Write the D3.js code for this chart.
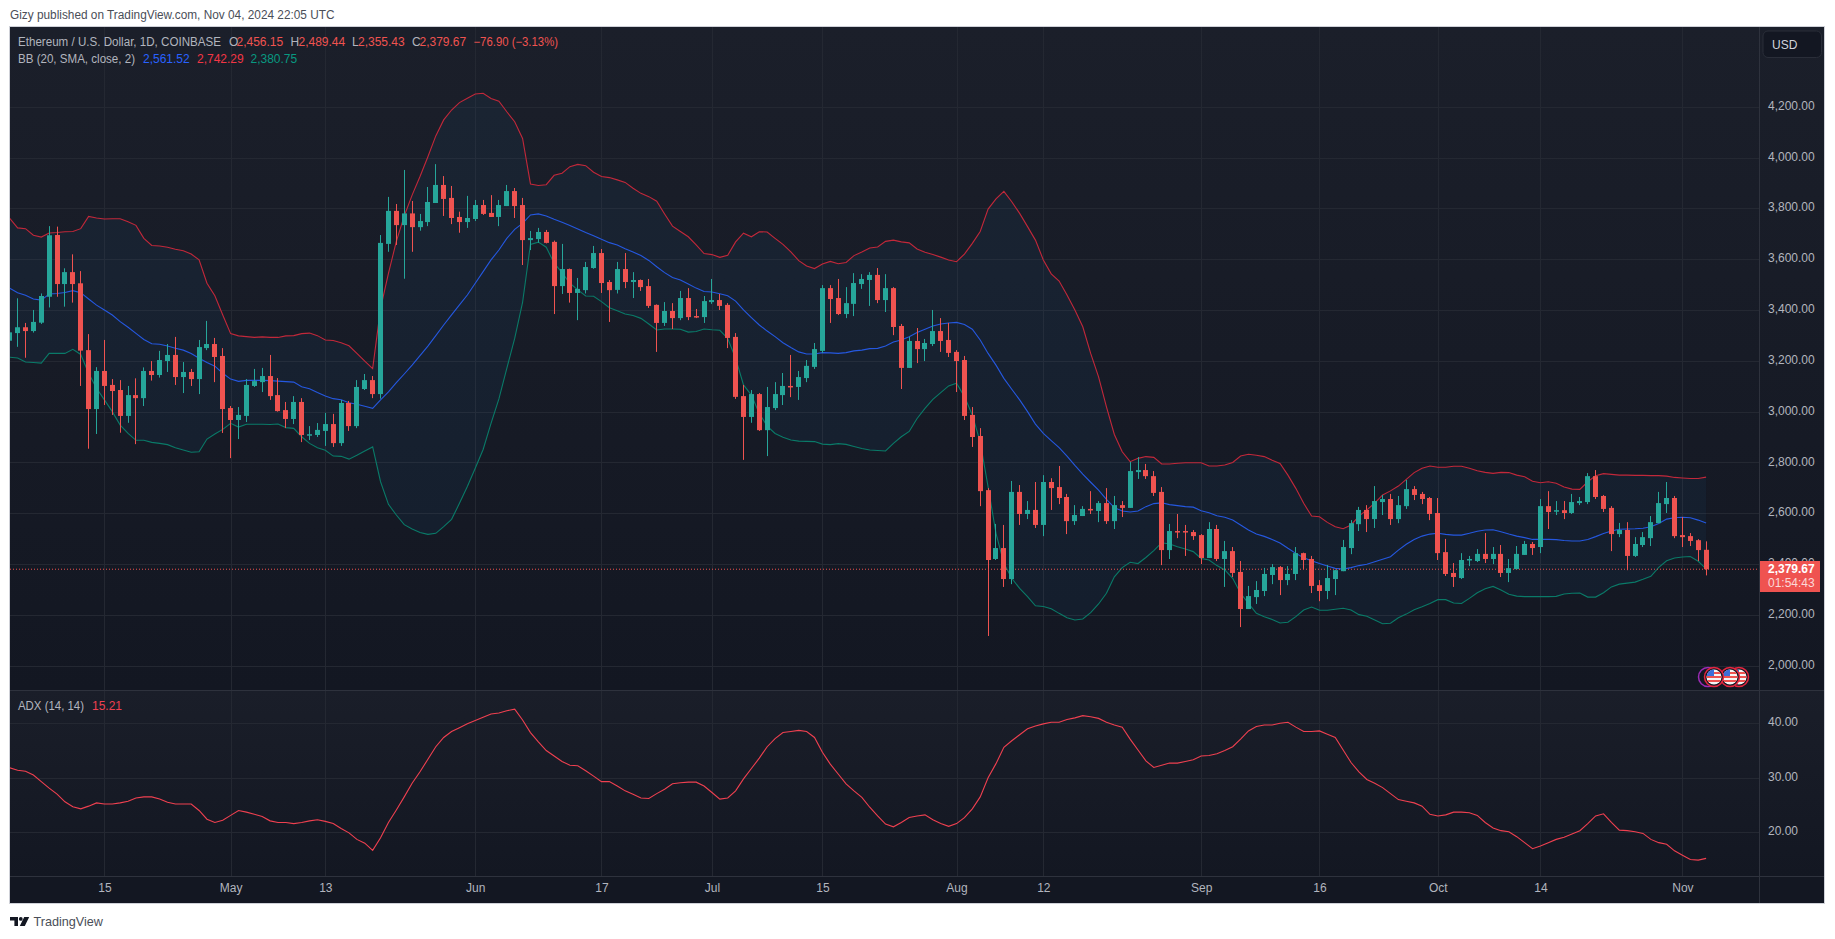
<!DOCTYPE html>
<html>
<head>
<meta charset="utf-8">
<script src="https://cdn.jsdelivr.net/npm/d3@7"></script>
<style>
  body { margin: 0; background: #fff; }
  svg { display: block; }
  text { font-family: "Liberation Sans", Arial, sans-serif; }
</style>
</head>
<body>
<script>
// daily candles, 2024-04-03 to 2024-11-04
var open = [
  3279,3309,3332,3317,3350,3452,3695,3502,3549,3505,
  3242,3010,3160,3105,3085,2983,3065,3053,3160,3144,
  3199,3223,3136,3156,3128,3250,3266,3219,3014,2967,
  2983,3101,3116,3140,3065,3006,2971,3038,2908,2908,
  2924,2951,2876,3034,2943,3089,3124,3069,3660,3790,
  3734,3780,3726,3746,3821,3892,3841,3766,3746,3758,
  3813,3782,3766,3809,3868,3813,3675,3679,3707,3668,
  3494,3561,3467,3478,3565,3624,3510,3479,3561,3510,
  3518,3494,3420,3349,3396,3368,3447,3376,3372,3431,
  3439,3420,3294,3061,2979,3069,2927,3014,3065,3101,
  3097,3132,3176,3239,3486,3447,3384,3424,3502,3518,
  3538,3439,3486,3337,3172,3278,3246,3266,3317,3282,
  3235,3203,2987,2904,2691,2420,2463,2341,2684,2597,
  2613,2554,2723,2703,2664,2569,2589,2617,2609,2640,
  2569,2632,2621,2762,2770,2746,2684,2455,2530,2530,
  2526,2514,2424,2538,2420,2451,2369,2223,2270,2294,
  2357,2388,2337,2361,2443,2420,2317,2294,2341,2372,
  2463,2557,2613,2577,2644,2656,2577,2628,2695,2676,
  2660,2601,2447,2365,2345,2416,2412,2440,2420,2440,
  2365,2380,2436,2479,2467,2628,2609,2612,2601,2640,
  2644,2746,2668,2621,2518,2534,2432,2475,2502,2561,
  2636,2660,2514,2510,2494,2456.15
];
var close = [
  3312,3332,3317,3353,3455,3694,3502,3549,3502,3240,
  3010,3160,3101,3081,2983,3065,3053,3160,3144,3203,
  3223,3136,3156,3128,3254,3266,3215,3010,2967,2987,
  3105,3120,3140,3061,3002,2971,3038,2908,2911,2928,
  2951,2876,3034,2943,3097,3124,3069,3664,3790,3734,
  3780,3726,3750,3825,3892,3837,3762,3746,3762,3813,
  3778,3766,3813,3868,3809,3675,3683,3707,3664,3494,
  3561,3467,3483,3569,3624,3506,3478,3561,3510,3518,
  3490,3416,3349,3396,3368,3447,3372,3372,3435,3439,
  3416,3290,3058,2979,3069,2927,3018,3069,3101,3097,
  3136,3180,3246,3486,3443,3384,3427,3506,3522,3538,
  3439,3486,3333,3172,3278,3246,3270,3317,3278,3231,
  3199,2983,2900,2687,2416,2463,2341,2684,2597,2613,
  2554,2723,2699,2660,2569,2593,2617,2613,2640,2569,
  2632,2621,2766,2770,2746,2680,2455,2530,2526,2526,
  2510,2424,2538,2420,2451,2365,2223,2274,2298,2361,
  2388,2337,2361,2443,2416,2314,2294,2345,2376,2467,
  2561,2613,2577,2648,2656,2577,2632,2695,2672,2656,
  2597,2443,2361,2349,2416,2420,2440,2420,2440,2365,
  2384,2440,2479,2463,2628,2605,2612,2601,2644,2648,
  2746,2664,2617,2518,2534,2432,2479,2506,2565,2640,
  2660,2510,2506,2491,2455,2379.67
];
var high = [
  3370,3446,3349,3400,3465,3730,3728,3564,3619,3553,
  3305,3175,3282,3128,3124,3101,3131,3174,3199,3239,
  3266,3294,3195,3168,3282,3357,3290,3250,3022,3018,
  3128,3168,3172,3223,3132,3038,3061,3053,2943,2955,
  2995,2991,3046,3042,3124,3148,3140,3695,3845,3817,
  3951,3829,3778,3884,3974,3927,3888,3787,3849,3833,
  3833,3852,3833,3892,3880,3841,3711,3723,3715,3673,
  3660,3563,3526,3589,3652,3640,3518,3589,3624,3549,
  3520,3522,3422,3431,3427,3475,3486,3404,3455,3522,
  3463,3427,3309,3105,3085,3073,3097,3116,3152,3223,
  3160,3203,3270,3498,3498,3522,3490,3545,3541,3549,
  3565,3541,3490,3345,3294,3329,3286,3400,3368,3349,
  3242,3219,3018,2935,2699,2558,2554,2727,2711,2648,
  2723,2750,2738,2786,2676,2632,2628,2687,2648,2699,
  2668,2648,2802,2821,2794,2766,2703,2558,2597,2554,
  2534,2518,2565,2554,2491,2467,2412,2314,2333,2385,
  2400,2392,2392,2467,2445,2432,2337,2396,2378,2495,
  2573,2625,2632,2707,2672,2676,2668,2731,2707,2684,
  2664,2660,2499,2404,2443,2432,2459,2522,2467,2475,
  2420,2471,2491,2487,2656,2687,2648,2648,2676,2664,
  2758,2770,2672,2628,2562,2565,2506,2526,2589,2684,
  2723,2668,2585,2522,2498,2489.44
];
var low = [
  3255,3255,3212,3311,3345,3410,3452,3413,3429,3101,
  2854,2912,3026,2987,2917,2956,2872,3022,3122,3134,
  3156,3105,3073,3101,3069,3242,3116,2916,2817,2892,
  2959,3097,3077,3046,3000,2935,2951,2880,2888,2900,
  2865,2861,2865,2924,2935,3085,3053,3051,3629,3656,
  3523,3629,3712,3730,3821,3770,3738,3704,3723,3750,
  3774,3766,3730,3809,3762,3577,3636,3665,3662,3384,
  3463,3429,3360,3465,3562,3467,3353,3465,3486,3447,
  3475,3408,3235,3337,3325,3360,3360,3368,3349,3424,
  3400,3250,3050,2810,2956,2924,2825,3006,3026,3057,
  3046,3116,3168,3231,3349,3380,3368,3376,3483,3416,
  3427,3392,3301,3089,3172,3191,3199,3258,3235,3215,
  3077,2967,2861,2628,2117,2416,2310,2321,2554,2577,
  2542,2510,2613,2636,2518,2554,2589,2597,2565,2558,
  2538,2585,2621,2735,2735,2668,2396,2420,2502,2432,
  2495,2400,2424,2412,2310,2349,2152,2223,2243,2274,
  2321,2278,2317,2337,2380,2286,2254,2262,2278,2372,
  2439,2530,2526,2542,2593,2554,2561,2617,2652,2636,
  2573,2416,2353,2310,2341,2392,2408,2404,2400,2349,
  2329,2380,2436,2436,2443,2538,2593,2577,2597,2632,
  2636,2656,2605,2451,2506,2376,2428,2467,2471,2561,
  2601,2502,2467,2471,2412,2355.43
];

// Bollinger bands
var bbUpper = [
  3761,3723,3720,3694,3687,3703,3705,3708,3709,3720,
  3768,3762,3758,3759,3759,3747,3733,3682,3654,3652,
  3647,3639,3633,3620,3597,3505,3456,3380,3307,3298,
  3295,3292,3294,3292,3292,3298,3299,3307,3309,3299,
  3282,3280,3271,3259,3229,3199,3169,3406,3544,3670,
  3770,3852,3925,4003,4085,4148,4187,4216,4233,4250,
  4253,4232,4222,4180,4141,4075,3896,3890,3893,3930,
  3938,3964,3973,3968,3942,3925,3921,3912,3902,3879,
  3859,3846,3828,3778,3730,3709,3688,3656,3622,3618,
  3607,3615,3668,3702,3688,3708,3707,3682,3658,3629,
  3594,3573,3563,3581,3591,3582,3587,3614,3628,3644,
  3648,3670,3675,3668,3664,3640,3627,3618,3608,3597,
  3590,3620,3662,3709,3797,3837,3867,3826,3780,3728,
  3675,3597,3542,3514,3459,3400,3334,3229,3137,3019,
  2910,2842,2803,2816,2823,2820,2794,2794,2797,2799,
  2799,2799,2786,2786,2790,2800,2825,2832,2828,2823,
  2809,2796,2750,2698,2639,2589,2586,2564,2547,2539,
  2554,2589,2613,2640,2672,2688,2707,2733,2760,2777,
  2786,2781,2781,2785,2785,2777,2767,2761,2757,2761,
  2760,2750,2744,2726,2720,2724,2718,2703,2695,2694,
  2724,2748,2756,2753,2750,2750,2749,2749,2748,2748,
  2746,2741,2739,2737,2737,2742.29
];
var bbBasis = [
  3486,3468,3458,3443,3439,3463,3465,3469,3476,3468,
  3443,3419,3400,3380,3354,3332,3308,3284,3267,3265,
  3258,3249,3242,3229,3210,3193,3179,3151,3128,3119,
  3123,3123,3123,3122,3120,3118,3116,3098,3090,3075,
  3061,3051,3047,3035,3029,3021,3013,3046,3078,3114,
  3148,3183,3220,3258,3299,3341,3381,3420,3459,3505,
  3551,3597,3636,3682,3717,3741,3774,3778,3770,3757,
  3745,3732,3719,3705,3692,3678,3665,3656,3641,3628,
  3614,3595,3570,3547,3528,3518,3502,3486,3473,3471,
  3464,3456,3435,3400,3370,3341,3317,3295,3271,3252,
  3235,3227,3227,3232,3231,3229,3232,3239,3242,3248,
  3249,3258,3274,3282,3295,3311,3324,3337,3345,3349,
  3351,3343,3324,3282,3229,3183,3131,3088,3046,3000,
  2951,2914,2886,2858,2825,2788,2754,2722,2691,2655,
  2622,2609,2605,2609,2626,2638,2641,2634,2630,2626,
  2624,2610,2602,2590,2584,2573,2554,2534,2518,2509,
  2497,2483,2462,2442,2425,2413,2402,2392,2383,2380,
  2386,2394,2399,2409,2419,2429,2455,2478,2497,2510,
  2518,2521,2517,2514,2514,2521,2529,2534,2535,2527,
  2518,2510,2504,2497,2497,2497,2496,2493,2491,2491,
  2497,2508,2520,2530,2537,2538,2539,2541,2547,2560,
  2577,2582,2584,2582,2573,2561.52
];
var bbLower = [
  3214,3211,3195,3193,3191,3229,3229,3229,3245,3225,
  3151,3092,3046,3000,2947,2914,2887,2887,2879,2875,
  2870,2858,2849,2840,2842,2892,2912,2930,2954,2939,
  2950,2950,2950,2949,2951,2937,2934,2901,2875,2858,
  2848,2825,2824,2813,2828,2845,2861,2724,2635,2593,
  2555,2538,2524,2517,2521,2547,2576,2639,2705,2777,
  2851,2954,3050,3170,3288,3430,3658,3667,3647,3584,
  3547,3505,3479,3455,3454,3433,3409,3397,3384,3378,
  3367,3345,3321,3325,3325,3324,3313,3315,3325,3322,
  3320,3288,3210,3105,3065,2993,2943,2914,2899,2888,
  2884,2883,2882,2872,2870,2874,2871,2863,2855,2849,
  2847,2845,2875,2901,2922,2973,3013,3048,3075,3101,
  3112,3059,2987,2880,2704,2521,2403,2344,2304,2272,
  2236,2233,2224,2206,2189,2180,2184,2209,2243,2285,
  2350,2386,2407,2402,2426,2453,2484,2479,2468,2459,
  2449,2422,2416,2394,2377,2344,2285,2245,2206,2193,
  2182,2168,2171,2193,2219,2231,2218,2218,2222,2226,
  2219,2201,2195,2180,2165,2167,2189,2203,2220,2232,
  2245,2260,2260,2247,2245,2265,2287,2303,2312,2298,
  2281,2274,2272,2272,2272,2272,2273,2282,2285,2286,
  2270,2270,2287,2310,2321,2325,2329,2340,2352,2387,
  2413,2424,2428,2430,2411,2380.75
];

// ADX (14, 14)
var adx = [
  31.85,31.4,31.2,30.5,29.3,28.1,27.0,25.6,24.7,24.3,
  24.8,25.4,25.2,25.2,25.4,25.7,26.3,26.5,26.5,26.1,
  25.5,25.2,25.2,25.2,24.0,22.4,21.8,22.2,23.1,24.0,
  23.7,23.3,22.9,22.1,21.8,21.8,21.6,21.8,22.1,22.3,
  22.0,21.6,20.7,19.9,18.7,18.0,16.7,19.0,21.8,24.1,
  26.5,29.0,31.1,33.4,35.7,37.4,38.5,39.2,39.9,40.5,
  41.1,41.7,41.9,42.3,42.6,40.6,38.3,36.6,35.0,34.0,
  33.0,32.3,32.2,31.3,30.3,29.3,29.3,28.5,27.6,27.0,
  26.3,26.2,27.1,27.9,28.9,29.1,29.2,29.2,28.5,27.3,
  26.1,26.3,27.6,29.8,31.7,33.6,35.7,37.2,38.3,38.5,
  38.7,38.5,37.4,34.7,32.5,30.7,28.9,27.6,26.4,24.6,
  23.0,21.5,21.0,21.8,22.7,23.0,23.2,22.3,21.6,21.1,
  21.6,22.7,24.3,26.5,30.0,32.6,35.6,36.8,37.9,39.0,
  39.5,39.9,40.2,40.2,40.7,41.0,41.4,41.2,40.9,40.2,
  39.7,39.3,37.1,35.1,33.1,31.9,32.3,32.7,32.7,33.0,
  33.3,34.0,34.1,34.4,35.0,35.7,37.1,38.6,39.4,39.7,
  39.7,40.0,40.2,39.3,38.5,38.5,38.6,38.0,37.4,35.1,
  32.8,31.1,29.7,29.0,28.2,27.1,26.0,25.7,25.4,24.8,
  23.3,23.0,23.2,23.7,23.7,23.6,23.1,21.8,20.8,20.3,
  20.1,19.2,18.1,17.0,17.5,18.1,18.7,19.1,19.7,20.3,
  21.6,23.0,23.4,21.8,20.4,20.3,20.1,19.8,18.7,18.1,
  17.8,16.6,15.8,15.0,14.9,15.21
];

var priceTicks = [2000,2200,2400,2600,2800,3000,3200,3400,3600,3800,4000,4200];
var adxTicks = [20,30,40];
var timeDates = ['2024-04-15','2024-05-01','2024-05-13','2024-06-01','2024-06-17','2024-07-01','2024-07-15','2024-08-01','2024-08-12','2024-09-01','2024-09-16','2024-10-01','2024-10-14','2024-11-01'];
var timeLabels = ['15','May','13','Jun','17','Jul','15','Aug','12','Sep','16','Oct','14','Nov'];
var lastPrice = 2379.67;

// colours
var colorUp = '#26a69a',
    colorDown = '#ef5350',
    colorGrid = '#242832',
    colorEdge = '#2e323d',
    colorText = '#b2b5be';

// layout of the panes
var left = 10, right = 1824, axisX = 1759,
    top0 = 27, bottom0 = 903, paneSplit = 690, timeTop = 876;

var days = d3.utcDay.range(new Date(Date.UTC(2024, 3, 3)), new Date(Date.UTC(2024, 10, 5)));
var tickDays = timeDates.map(function(d){ return new Date(d + 'T00:00:00Z'); });

var x = d3.scaleUtc().domain([days[0], days[days.length - 1]]).range([9.72, 1706.1]);
var y = d3.scaleLinear().domain([2000, 4200]).range([665.7, 106.7]);
var yAdx = d3.scaleLinear().domain([20, 40]).range([832.3, 723.3]);

var svg = d3.select('body').append('svg').attr('width', 1835).attr('height', 939);
var defs = svg.append('defs');

function gradient(id, c0, c1) {
    var g = defs.append('linearGradient').attr('id', id).attr('x1', 0).attr('y1', 0).attr('x2', 0).attr('y2', 1);
    g.append('stop').attr('offset', 0).attr('stop-color', c0);
    g.append('stop').attr('offset', 1).attr('stop-color', c1);
}
gradient('gPrice', '#1b1f2a', '#131722');
gradient('gAdx', '#1a1e29', '#131722');

defs.append('clipPath').attr('id', 'clipPrice').append('rect')
    .attr('x', left).attr('y', top0).attr('width', axisX - left).attr('height', paneSplit - top0);
defs.append('clipPath').attr('id', 'clipAdx').append('rect')
    .attr('x', left).attr('y', paneSplit).attr('width', axisX - left).attr('height', timeTop - paneSplit);

// backgrounds
svg.append('rect').attr('x', left).attr('y', top0).attr('width', right - left).attr('height', paneSplit - top0).attr('fill', 'url(#gPrice)');
svg.append('rect').attr('x', left).attr('y', paneSplit).attr('width', right - left).attr('height', timeTop - paneSplit).attr('fill', 'url(#gAdx)');
svg.append('rect').attr('x', left).attr('y', timeTop).attr('width', right - left).attr('height', bottom0 - timeTop).attr('fill', '#131722');

// grid
var grid = svg.append('g').attr('stroke', colorGrid).attr('stroke-width', 1);
grid.selectAll('.v').data(tickDays).enter().append('line')
    .attr('x1', function(d){ return Math.round(x(d)) + 0.5; })
    .attr('x2', function(d){ return Math.round(x(d)) + 0.5; })
    .attr('y1', top0).attr('y2', timeTop);
grid.selectAll('.h').data(priceTicks).enter().append('line')
    .attr('x1', left).attr('x2', axisX)
    .attr('y1', function(d){ return Math.round(y(d)) + 0.5; })
    .attr('y2', function(d){ return Math.round(y(d)) + 0.5; });
grid.selectAll('.a').data(adxTicks).enter().append('line')
    .attr('x1', left).attr('x2', axisX)
    .attr('y1', function(d){ return Math.round(yAdx(d)) + 0.5; })
    .attr('y2', function(d){ return Math.round(yAdx(d)) + 0.5; });

// price pane
var price = svg.append('g').attr('clip-path', 'url(#clipPrice)');

var band = d3.area()
    .x(function(d){ return x(d); })
    .y0(function(d, i){ return y(bbLower[i]); })
    .y1(function(d, i){ return y(bbUpper[i]); });
price.append('path').attr('d', band(days)).attr('fill', 'rgba(33,150,243,0.05)');

function bbLine(values, color) {
    var line = d3.line().x(function(d){ return x(d); }).y(function(d, i){ return y(values[i]); });
    price.append('path').attr('d', line(days)).attr('fill', 'none')
        .attr('stroke', color).attr('stroke-width', 1.1);
}
bbLine(bbUpper, '#c2283a');
bbLine(bbBasis, '#2558e0');
bbLine(bbLower, '#0a7a68');

// dotted last price line
price.append('line')
    .attr('x1', left).attr('x2', axisX)
    .attr('y1', y(lastPrice)).attr('y2', y(lastPrice))
    .attr('stroke', colorDown).attr('stroke-width', 1).attr('stroke-dasharray', '1 2');

// candles
var candle = price.selectAll('.candle').data(days).enter().append('g');
candle.append('rect')
    .attr('x', function(d){ return Math.floor(x(d)); })
    .attr('width', 1)
    .attr('y', function(d, i){ return y(high[i]); })
    .attr('height', function(d, i){ return y(low[i]) - y(high[i]); })
    .attr('fill', function(d, i){ return close[i] >= open[i] ? colorUp : colorDown; });
candle.append('rect')
    .attr('x', function(d){ return Math.floor(x(d)) - 2; })
    .attr('width', 5)
    .attr('y', function(d, i){ return y(Math.max(open[i], close[i])); })
    .attr('height', function(d, i){ return Math.max(1.5, Math.abs(y(open[i]) - y(close[i]))); })
    .attr('fill', function(d, i){ return close[i] >= open[i] ? colorUp : colorDown; });

// economic event flags
function flag(cx, cy) {
    var id = 'f' + Math.round(cx);
    defs.append('clipPath').attr('id', id).append('circle').attr('cx', cx).attr('cy', cy).attr('r', 7.5);
    var g = svg.append('g');
    g.append('circle').attr('cx', cx).attr('cy', cy).attr('r', 9.5)
        .attr('fill', '#131722').attr('stroke', '#e5263f').attr('stroke-width', 1.5);
    var inner = g.append('g').attr('clip-path', 'url(#' + id + ')');
    inner.append('rect').attr('x', cx - 8).attr('y', cy - 8).attr('width', 16).attr('height', 16).attr('fill', '#f5f5f5');
    [-5, -1, 3].forEach(function(o){
        inner.append('rect').attr('x', cx - 8).attr('y', cy + o).attr('width', 16).attr('height', 2).attr('fill', '#ef5350');
    });
    inner.append('rect').attr('x', cx - 8).attr('y', cy - 8).attr('width', 8).attr('height', 7).attr('fill', '#3d6fd8');
}
svg.append('circle').attr('cx', 1708).attr('cy', 677).attr('r', 9.5)
    .attr('fill', 'none').attr('stroke', '#9c2bb5').attr('stroke-width', 1.5);
flag(1739, 677);
flag(1730, 677);
flag(1714, 677);

// ADX pane
var adxLine = d3.line().x(function(d){ return x(d); }).y(function(d, i){ return yAdx(adx[i]); });
svg.append('g').attr('clip-path', 'url(#clipAdx)').append('path')
    .attr('d', adxLine(days)).attr('fill', 'none').attr('stroke', '#ef4050').attr('stroke-width', 1.1);

// pane edges
var edges = svg.append('g').attr('stroke', colorEdge).attr('stroke-width', 1);
edges.append('line').attr('x1', left).attr('x2', right).attr('y1', paneSplit + 0.5).attr('y2', paneSplit + 0.5);
edges.append('line').attr('x1', left).attr('x2', right).attr('y1', timeTop + 0.5).attr('y2', timeTop + 0.5);
edges.append('line').attr('x1', axisX + 0.5).attr('x2', axisX + 0.5).attr('y1', top0).attr('y2', bottom0);

// axes
function styleAxis(g) {
    g.select('.domain').remove();
    g.selectAll('text').attr('fill', colorText).attr('font-size', 12)
        .style('font-family', '"Liberation Sans", Arial, sans-serif');
}
function raise(g) {
    g.selectAll('text').attr('dy', '0.22em');
}
svg.append('g').attr('transform', 'translate(' + axisX + ',0)')
    .call(d3.axisRight(y).tickValues(priceTicks).tickFormat(d3.format(',.2f')).tickSize(0).tickPadding(9))
    .call(styleAxis).call(raise);
svg.append('g').attr('transform', 'translate(' + axisX + ',0)')
    .call(d3.axisRight(yAdx).tickValues(adxTicks).tickFormat(d3.format('.2f')).tickSize(0).tickPadding(9))
    .call(styleAxis).call(raise);
svg.append('g').attr('transform', 'translate(0,' + timeTop + ')')
    .call(d3.axisBottom(x).tickValues(tickDays)
        .tickFormat(function(d, i){ return timeLabels[i]; }).tickSize(0).tickPadding(7))
    .call(styleAxis);

// last price label
svg.append('rect').attr('x', axisX + 1).attr('y', 561).attr('width', 60).attr('height', 31).attr('fill', colorDown);
svg.append('text').attr('x', 1768).attr('y', 573).attr('fill', '#fff').attr('font-size', 12).attr('font-weight', 'bold').text('2,379.67');
svg.append('text').attr('x', 1768).attr('y', 587).attr('fill', '#fbd9d8').attr('font-size', 12).text('01:54:43');

// USD button
svg.append('rect').attr('x', 1763).attr('y', 31).attr('width', 58.5).attr('height', 26.5).attr('rx', 5)
    .attr('fill', '#131722').attr('stroke', '#2a2e39');
svg.append('text').attr('x', 1772).attr('y', 49).attr('fill', '#d1d4dc').attr('font-size', 12).text('USD');

// legends, the width is set where the font runs wider than the reference
function label(px, py, str, color, width) {
    var t = svg.append('text').attr('x', px).attr('y', py).attr('fill', color).attr('font-size', 12).text(str);
    if (width) t.attr('textLength', width).attr('lengthAdjust', 'spacingAndGlyphs');
}
label(18, 46, 'Ethereum / U.S. Dollar, 1D, COINBASE', colorText, 203);
label(229, 46, 'O', colorText);
label(236.5, 46, '2,456.15', colorDown);
label(290.5, 46, 'H', colorText);
label(298.5, 46, '2,489.44', colorDown);
label(352, 46, 'L', colorText);
label(358, 46, '2,355.43', colorDown);
label(412, 46, 'C', colorText);
label(419.5, 46, '2,379.67', colorDown);
label(473.5, 46, '\u221276.90 (\u22123.13%)', colorDown, 84.5);
label(18, 63, 'BB (20, SMA, close, 2)', colorText, 117);
label(143, 63, '2,561.52', '#2962ff');
label(197, 63, '2,742.29', '#f23645');
label(250.5, 63, '2,380.75', '#089981');
label(18, 710, 'ADX (14, 14)', colorText, 66);
label(92, 710, '15.21', '#ef4050');

// frame
svg.append('rect').attr('x', left - 0.5).attr('y', top0 - 0.5).attr('width', right - left + 1).attr('height', bottom0 - top0 + 1)
    .attr('fill', 'none').attr('stroke', '#cfd1d8');

// header and footer
label(10, 19, 'Gizy published on TradingView.com, Nov 04, 2024 22:05 UTC', '#4a4e58', 324.5);
svg.append('path').attr('fill', '#131722')
    .attr('d', 'M10 917h8v9h-3.6v-5.4H10z M24.2 917h5l-4.4 9h-5z');
svg.append('circle').attr('cx', 20.8).attr('cy', 918.9).attr('r', 1.9).attr('fill', '#131722');
svg.append('text').attr('x', 33.5).attr('y', 926).attr('fill', '#4a4e58').attr('font-size', 13)
    .attr('textLength', 69.5).attr('lengthAdjust', 'spacingAndGlyphs').text('TradingView');
</script>
</body>
</html>
